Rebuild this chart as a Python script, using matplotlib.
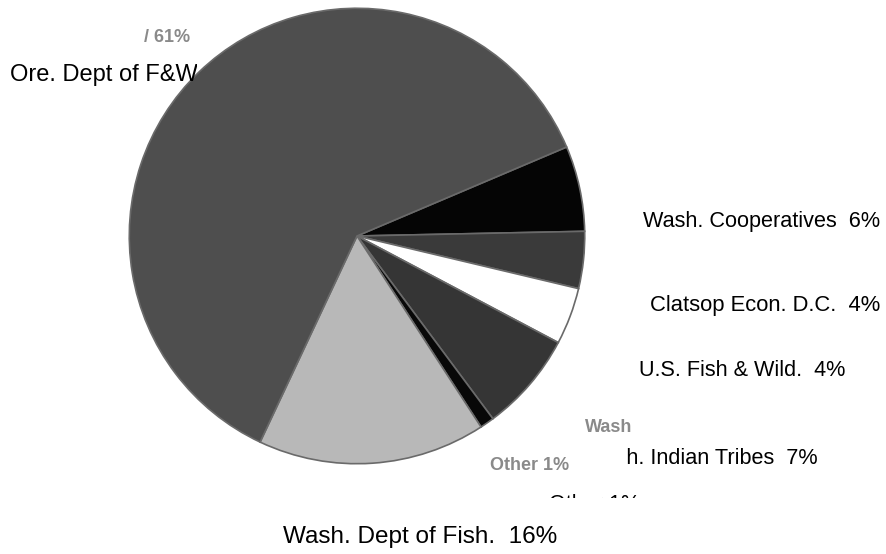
import matplotlib.pyplot as plt
from matplotlib.patches import Rectangle

# pie slices, clockwise starting from the black wedge on the right
names = ["Wash. Cooperatives", "Clatsop Econ. D.C.", "U.S. Fish & Wild.",
         "Wash. Indian Tribes", "Other", "Wash. Dept of Fish.", "Ore. Dept of F&W"]
shares = [6, 4, 4, 7, 1, 16, 61]
shades = ["#050505", "#3a3a3a", "#ffffff", "#353535", "#080808", "#b8b8b8", "#4e4e4e"]

W, H = 887, 554
fig = plt.figure(figsize=(W / 100, H / 100), dpi=100)
fig.patch.set_facecolor("white")

def px(x, y):
    # pixel coords (top-left origin) -> figure fraction
    return x / W, 1 - y / H

cx, cy, r = 357, 236, 230
ax = fig.add_axes([(cx - r) / W, 1 - (cy + r) / H, 2 * r / W, 2 * r / H])
ax.pie(shares, colors=shades, startangle=23, counterclock=False,
       wedgeprops=dict(edgecolor="#6a6a6a", linewidth=1.2))
ax.set_xlim(-1.01, 1.01)
ax.set_ylim(-1.01, 1.01)
ax.axis("off")

def label(txt, x, y, ha="left", size=15.6, clip=None):
    t = fig.text(*px(x, y), txt, ha=ha, va="center", family="Liberation Sans",
                 fontsize=size, color="black")
    if clip is not None:
        x0, y0, x1, y1 = clip
        fx0, fy1 = px(x0, y0)
        fx1, fy0 = px(x1, y1)
        rect = Rectangle((fx0, fy0), fx1 - fx0, fy1 - fy0,
                         transform=fig.transFigure, visible=False)
        fig.add_artist(rect)
        t.set_clip_path(rect)
    return t

# crisp labels
label(names[6], 10, 75, size=17, clip=(0, 0, 197, 554))
label(f"{names[0]}  {shares[0]}%", 880, 222, ha="right")
label(f"{names[1]}  {shares[1]}%", 880, 306, ha="right", size=15.8)
label(f"{names[2]}  {shares[2]}%", 845, 370, ha="right")
label(f"{names[3]}  {shares[3]}%", 818, 458, ha="right", clip=(627, 0, 887, 554))
label(f"{names[4]} {shares[4]}%", 640, 504, ha="right", clip=(0, 493, 887, 498))
label(f"{names[5]}  {shares[5]}%", 420, 537, ha="center", size=17.5)

# faded labels from the scanned picture
faded = dict(family="Liberation Sans", fontsize=13, color="#8a8a8a", fontweight="bold")
fig.text(*px(190, 38), f"/ {shares[6]}%", ha="right", va="center", **faded)
fig.text(*px(585, 427), "Wash", ha="left", va="center", **faded)
fig.text(*px(490, 465), f"{names[4]} {shares[4]}%", ha="left", va="center", **faded)

fig.savefig("out.png", dpi=100)
